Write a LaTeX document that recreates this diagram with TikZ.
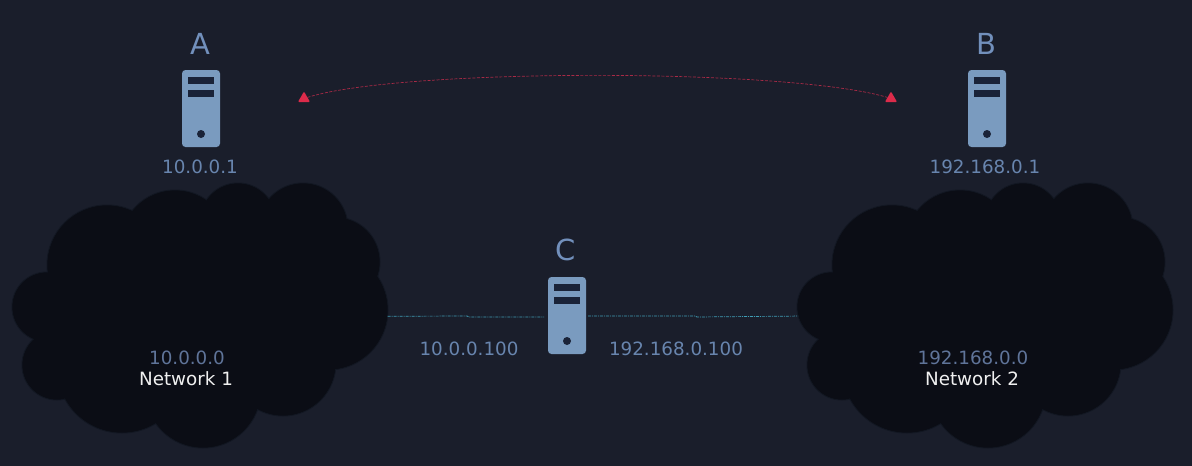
\documentclass[tikz,border=0pt]{standalone}
\usepackage{fontspec}
\setmainfont{DejaVu Sans}
\usetikzlibrary{shapes.geometric}
\definecolor{bgc}{HTML}{1A1E2B}
\definecolor{cloudc}{HTML}{0B0D15}
\definecolor{cloude}{HTML}{121722}
\definecolor{srvc}{HTML}{7A9BBF}
\definecolor{barc}{HTML}{1A2338}
\definecolor{ipc}{HTML}{6885AE}
\definecolor{netipc}{HTML}{5F7499}
\definecolor{letterc}{HTML}{7290BC}
\definecolor{redc}{HTML}{DC2B4A}
\definecolor{redl}{HTML}{A82A46}
\definecolor{tealc}{HTML}{3F9DB5}
\tikzset{
  lobe/.style={circle,draw=cloude,line width=1pt,fill=cloudc,inner sep=0pt,outer sep=0pt},
  serverbox/.style={rectangle,rounded corners=3.5pt,fill=srvc,minimum width=38pt,minimum height=77pt,inner sep=0pt,outer sep=0pt},
  ip/.style={text=ipc,font=\fontsize{18.3}{20}\selectfont,inner sep=0pt},
  netip/.style={text=netipc,font=\fontsize{18.3}{20}\selectfont,inner sep=0pt},
  netname/.style={text=white!94!black,font=\fontsize{18.3}{20}\selectfont,inner sep=0pt},
  letter/.style={text=letterc,font=\fontsize{29}{30}\selectfont,inner sep=0pt},
  tip/.style={regular polygon,regular polygon sides=3,fill=redc,inner sep=0pt,outer sep=0pt,minimum size=14pt,rounded corners=1pt},
  redlink/.style={draw=redl,line width=.7pt,dash pattern=on 3pt off 1.5pt},
  teallink/.style={draw=tealc,line width=.7pt,dash pattern=on 3pt off 1pt on 1pt off 1pt},
}
\newcommand{\mycloud}[2]{%
  \begin{scope}[xshift=#2pt]
    \foreach \i/\cx/\cy/\r in {a/107/265/60,b/175/245/55,c/238/221/38,d/303/228/45,e/335/262/45,r/328/310/60,l/47/307/35,g/57/365/35,h/122/368/65,j/203/390/58,k/283/363/53}{
      \node[lobe,minimum size=2*\r pt] (#1\i) at (\cx,\cy) {};
    }
    \foreach \cx/\cy/\r in {107/265/60,175/245/55,238/221/38,303/228/45,335/262/45,328/310/60,47/307/35,57/365/35,122/368/65,203/390/58,283/363/53}{
      \fill[cloudc] (\cx,\cy) circle[radius=\r pt-0.6pt];
    }
    \fill[cloudc] (110,240) rectangle (320,380);
    \fill[cloudc] (60,290) rectangle (330,370);
  \end{scope}%
}
\newcommand{\myserver}[3]{%
  \begin{scope}[shift={(#2,#3)}]
    \node[serverbox] (#1) at (19,38.5) {};
    \fill[barc] (6,6.5) rectangle (32,13.5);
    \fill[barc] (6,19.5) rectangle (32,27);
    \fill[barc] (19,64) circle[radius=4pt];
  \end{scope}%
}
\begin{document}
\begin{tikzpicture}[x=1pt,y=-1pt]
\useasboundingbox (0,0) rectangle (1192,466);
\fill[bgc] (0,0) rectangle (1192,466);

\mycloud{na}{0}
\mycloud{nb}{785}

\myserver{sa}{182}{70}
\myserver{sb}{968}{70}
\myserver{sc}{548}{277}

\node[letter] (la) at (200,44) {A};
\node[letter] (lb) at (986,44) {B};
\node[letter] (lc) at (566,250) {C};

\node[ip] (ipa) at (200,167) {10.0.0.1};
\node[ip] (ipb) at (985,167) {192.168.0.1};
\node[ip] (ipc1) at (469,349) {10.0.0.100};
\node[ip] (ipc2) at (676,349) {192.168.0.100};

\node[netip] (net1ip) at (187,358) {10.0.0.0};
\node[netname] (net1) at (186,379) {Network 1};
\node[netip] (net2ip) at (973,358) {192.168.0.0};
\node[netname] (net2) at (972,379) {Network 2};

\node[tip] (ta) at (304,98.5) {};
\node[tip] (tb) at (891,98.5) {};
\draw[redlink] (ta) .. controls (400,68) and (790,68) .. (tb);

\coordinate (cl) at (544,317);
\coordinate (cr) at (588,316);
\draw[teallink] (nar.-6) -- (467,316) -- (469,317) -- (cl);
\draw[teallink] (cr) -- (695,316) -- (697,317) -- (nbl.195);
\end{tikzpicture}
\end{document}
